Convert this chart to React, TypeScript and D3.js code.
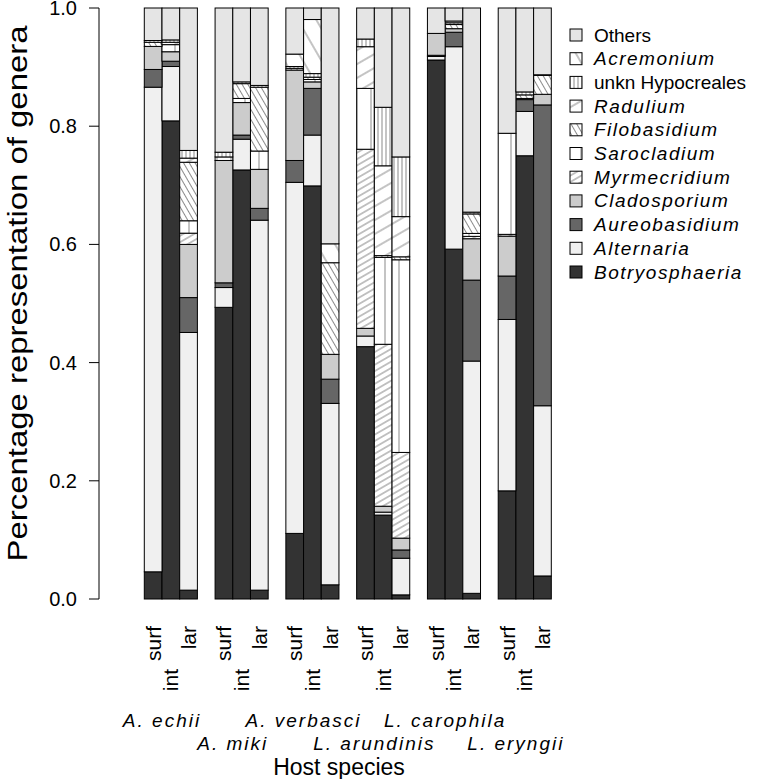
import React from "react";
import * as d3 from "d3";

const groups = ["A. echii", "A. miki", "A. verbasci", "L. arundinis", "L. carophila", "L. eryngii"];
const parts = ["surf", "int", "lar"];
const genera = ["Botryosphaeria", "Alternaria", "Aureobasidium", "Cladosporium", "Myrmecridium", "Sarocladium", "Filobasidium", "Radulium", "unkn Hypocreales", "Acremonium", "Others"];
const italicGenera = ["Botryosphaeria", "Alternaria", "Aureobasidium", "Cladosporium", "Myrmecridium", "Sarocladium", "Filobasidium", "Radulium", "Acremonium"];
const yTicks = [0, 0.2, 0.4, 0.6, 0.8, 1.0];

// one value per bar: A.echii surf,int,lar, A.miki surf,int,lar, ...
const botryosphaeria = [0.046, 0.809, 0.015, 0.4935, 0.726, 0.015, 0.111, 0.699, 0.024, 0.427, 0.142, 0.007, 0.912, 0.592, 0.0096, 0.183, 0.75, 0.039];
const alternaria = [0.82, 0.092, 0.436, 0.0335, 0.052, 0.626, 0.594, 0.086, 0.307, 0.018, 0.005, 0.062, 0.006, 0.3425, 0.393, 0.29, 0.075, 0.288];
const aureobasidium = [0.03, 0.009, 0.059, 0.008, 0.007, 0.02, 0.037, 0.079, 0.041, 0, 0, 0.014, 0.002, 0.0245, 0.137, 0.0735, 0.02, 0.509];
const cladosporium = [0.039, 0.016, 0.09, 0.207, 0.055, 0.066, 0.153, 0.011, 0.042, 0.013, 0.01, 0.02, 0.037, 0.006, 0.07, 0.0675, 0.002, 0.018];
const myrmecridium = [0, 0, 0.019, 0, 0, 0, 0, 0, 0, 0.303, 0.274, 0.145, 0, 0, 0.004, 0.003, 0, 0];
const sarocladium = [0, 0.012, 0.021, 0.006, 0.007, 0.031, 0, 0.004, 0, 0.103, 0.147, 0.326, 0, 0, 0.005, 0.171, 0, 0];
const filobasidium = [0.007, 0, 0.099, 0, 0.025, 0.108, 0.003, 0.004, 0.155, 0, 0.003, 0.005, 0, 0.007, 0.033, 0, 0.006, 0.032];
const radulium = [0, 0.004, 0.007, 0, 0, 0, 0, 0, 0, 0.0705, 0.152, 0.068, 0, 0, 0, 0, 0, 0];
const unknHypocreales = [0.003, 0.004, 0.013, 0.008, 0.003, 0.003, 0.003, 0.006, 0, 0.013, 0.099, 0.101, 0, 0.003, 0.003, 0, 0.005, 0.001];
const acremonium = [0, 0, 0, 0, 0, 0, 0.021, 0.0915, 0.032, 0, 0, 0, 0, 0.003, 0, 0, 0, 0];
const others = [0.055, 0.054, 0.241, 0.244, 0.125, 0.131, 0.078, 0.0195, 0.399, 0.0525, 0.168, 0.252, 0.043, 0.022, 0.3454, 0.212, 0.142, 0.113];

const seriesValues = [botryosphaeria, alternaria, aureobasidium, cladosporium, myrmecridium, sarocladium, filobasidium, radulium, unknHypocreales, acremonium, others];

type Fill = { color?: string; angle?: number; spacing?: number };
const fills: Record<string, Fill> = {
  Botryosphaeria: { color: "#333333" },
  Alternaria: { color: "#f0f0f0" },
  Aureobasidium: { color: "#666666" },
  Cladosporium: { color: "#cccccc" },
  Myrmecridium: { angle: 60, spacing: 5.5 },
  Sarocladium: { angle: 0, spacing: 14 },
  Filobasidium: { angle: -30, spacing: 5 },
  Radulium: { angle: 60, spacing: 12 },
  "unkn Hypocreales": { angle: 0, spacing: 4 },
  Acremonium: { angle: -30, spacing: 16 },
  Others: { color: "#e5e5e5" },
};

const FONT = "'Liberation Sans', Arial, Helvetica, sans-serif";

function fillFor(g: string) {
  const f = fills[g];
  if (f.color) return f.color;
  return `url(#pat-${genera.indexOf(g)})`;
}

export default function App() {
  const width = 765;
  const height = 779;
  const nBars = groups.length * parts.length;
  const rows = d3.range(nBars).map((i) => {
    const r: Record<string, number> = { idx: i };
    genera.forEach((g, k) => (r[g] = seriesValues[k][i]));
    return r;
  });
  const stacked = d3.stack<Record<string, number>>().keys(genera)(rows);

  const y = d3.scaleLinear().domain([0, 1]).range([599, 8]);
  const x = d3.scaleLinear().domain([0, 23]).range([144.3, 551.3]);
  const slot = (i: number) => Math.floor(i / 3) * 4 + (i % 3);
  const bw = x(1) - x(0);
  const axisX = 99;

  return (
    <svg width={width} height={height} style={{ display: "block", position: "absolute", left: 0, top: 0 }} fontFamily={FONT}>
      <defs>
        {genera.map((g, k) => {
          const f = fills[g];
          if (f.color) return null;
          return (
            <pattern key={g} id={`pat-${k}`} patternUnits="userSpaceOnUse" width={f.spacing} height={40} patternTransform={`rotate(${f.angle})`}>
              <rect x={0} y={0} width={f.spacing} height={40} fill="#ffffff" />
              <line x1={f.spacing! / 2} y1={0} x2={f.spacing! / 2} y2={40} stroke="#8a8a8a" strokeWidth={1} />
            </pattern>
          );
        })}
      </defs>
      <rect x={0} y={0} width={width} height={height} fill="#ffffff" />

      {/* bars */}
      {stacked.map((s) => (
        <g key={s.key}>
          {s.map((d, i) => (
            <rect
              key={i}
              x={x(slot(i))}
              width={bw}
              y={y(d[1])}
              height={Math.max(0, y(d[0]) - y(d[1]))}
              fill={fillFor(s.key)}
              stroke="#000"
              strokeWidth={1}
            />
          ))}
        </g>
      ))}

      {/* y axis */}
      <line x1={axisX} x2={axisX} y1={y(0)} y2={y(1)} stroke="#000" strokeWidth={1} />
      {yTicks.map((t) => (
        <g key={t}>
          <line x1={axisX - 10} x2={axisX} y1={y(t)} y2={y(t)} stroke="#000" />
          <text x={77} y={y(t)} textAnchor="end" dominantBaseline="central" fontSize={20}>
            {t.toFixed(1)}
          </text>
        </g>
      ))}
      <text transform={`translate(18,${(y(0) + y(1)) / 2 - 10}) rotate(-90)`} textAnchor="middle" dominantBaseline="central" fontSize={27} textLength={536} lengthAdjust="spacingAndGlyphs">
        Percentage representation of genera
      </text>

      {/* bar labels */}
      {d3.range(nBars).map((i) => {
        const cx = x(slot(i)) + bw / 2;
        const p = parts[i % 3];
        const yy = p === "int" ? 669 : 626;
        return (
          <text key={i} transform={`translate(${cx},${yy}) rotate(-90)`} textAnchor="end" dominantBaseline="central" fontSize={21}>
            {p}
          </text>
        );
      })}

      {/* group labels */}
      {groups.map((g, gi) => {
        const cx = x(gi * 4 + 1.5) - bw / 2;
        const yy = gi % 2 === 0 ? 727 : 750;
        return (
          <text key={g} x={cx} y={yy} textAnchor="middle" fontSize={19} fontStyle="italic" letterSpacing={2}>
            {g}
          </text>
        );
      })}
      <text x={339} y={775} textAnchor="middle" fontSize={23}>
        Host species
      </text>

      {/* legend */}
      {genera
        .slice()
        .reverse()
        .map((g, k) => {
          const cy = 35 + k * 23.7;
          return (
            <g key={g}>
              <rect x={570} y={cy - 6} width={12} height={12} fill={fillFor(g)} stroke="#000" strokeWidth={1} />
              <text x={594} y={cy} dominantBaseline="central" fontSize={19} fontStyle={italicGenera.includes(g) ? "italic" : "normal"} letterSpacing={italicGenera.includes(g) ? 1.5 : 0}>
                {g}
              </text>
            </g>
          );
        })}
    </svg>
  );
}
